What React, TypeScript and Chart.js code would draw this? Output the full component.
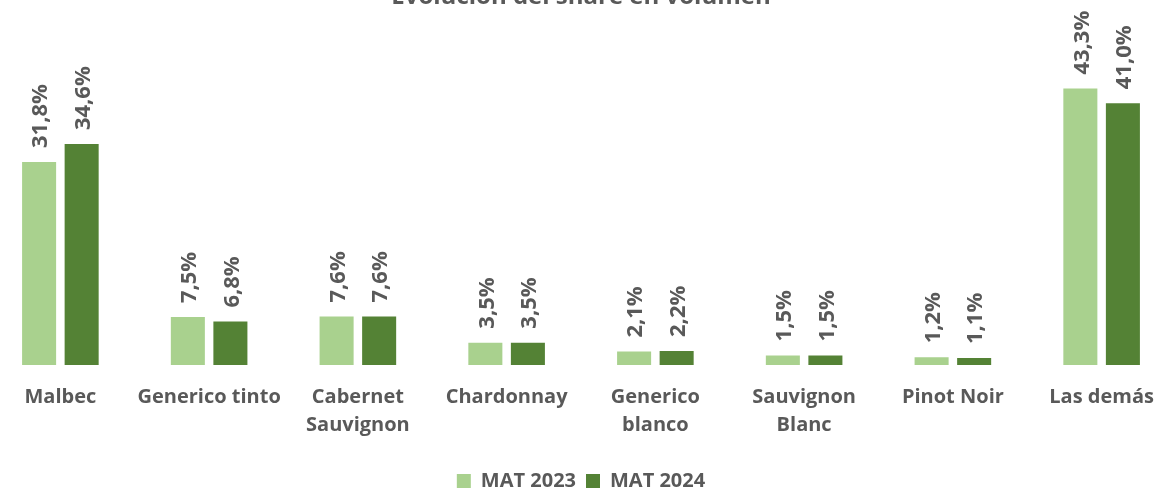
import React, { useEffect, useRef } from "react";
import { Chart, registerables } from "chart.js";

Chart.register(...registerables);

const categories: (string | string[])[] = [
  "Malbec",
  "Generico tinto",
  ["Cabernet", "Sauvignon"],
  "Chardonnay",
  ["Generico", "blanco"],
  ["Sauvignon", "Blanc"],
  "Pinot Noir",
  "Las demás",
];
const mat2023 = [31.8, 7.5, 7.6, 3.5, 2.1, 1.5, 1.2, 43.3];
const mat2024 = [34.6, 6.8, 7.6, 3.5, 2.2, 1.5, 1.1, 41.0];
const seriesNames = ["MAT 2023", "MAT 2024"];
const title = "Evolución del share en volumen";

const TEXT = "#595959";
const FONT = "'Open Sans', sans-serif";

const valueLabels = {
  id: "valueLabels",
  afterDatasetsDraw(chart: any) {
    const ctx = chart.ctx;
    ctx.save();
    ctx.fillStyle = TEXT;
    ctx.font = `bold 22px ${FONT}`;
    ctx.textAlign = "left";
    ctx.textBaseline = "middle";
    chart.data.datasets.forEach((ds: any, di: number) => {
      const meta = chart.getDatasetMeta(di);
      meta.data.forEach((bar: any, i: number) => {
        const v = ds.data[i];
        const txt = v.toFixed(1).replace(".", ",") + "%";
        ctx.save();
        ctx.translate(bar.x + 2, bar.y - 14);
        ctx.rotate(-Math.PI / 2);
        ctx.fillText(txt, 0, 0);
        ctx.restore();
      });
    });
    ctx.restore();
  },
};

export default function App() {
  const ref = useRef<HTMLCanvasElement>(null);
  useEffect(() => {
    if (!ref.current) return;
    const chart = new Chart(ref.current, {
      type: "bar",
      data: {
        labels: categories,
        datasets: [
          {
            label: seriesNames[0],
            data: mat2023,
            backgroundColor: "#A9D18E",
            categoryPercentage: 0.572,
            barPercentage: 0.8,
          },
          {
            label: seriesNames[1],
            data: mat2024,
            backgroundColor: "#548235",
            categoryPercentage: 0.572,
            barPercentage: 0.8,
          },
        ],
      },
      options: {
        responsive: false,
        animation: false,
        layout: { padding: 0 },
        plugins: {
          title: {
            display: true,
            text: title,
            color: TEXT,
            font: { family: FONT, size: 24, weight: "bold", lineHeight: 1.2 },
            padding: { top: 3, bottom: 34 },
          },
          legend: {
            position: "bottom",
            labels: {
              color: TEXT,
              font: { family: FONT, size: 20, weight: "bold" },
              boxWidth: 14,
              boxHeight: 14,
              padding: 10,
            },
          },
          tooltip: { enabled: false },
        },
        scales: {
          x: {
            grid: { display: false, drawTicks: false },
            border: { display: false },
            ticks: {
              color: TEXT,
              font: { family: FONT, size: 20, weight: "bold", lineHeight: 1.4 },
              padding: 18,
              maxRotation: 0,
              autoSkip: false,
            },
            afterFit: (s: any) => {
              s.height = 96;
            },
          },
          y: {
            display: false,
            min: 0,
            max: 50,
          },
        },
      },
      plugins: [valueLabels],
    });
    return () => chart.destroy();
  }, []);
  return (
    <div
      style={{
        position: "fixed",
        left: 0,
        top: 0,
        width: 1160,
        height: 491,
        overflow: "hidden",
        background: "#fff",
      }}
    >
      <canvas
        ref={ref}
        width={1190}
        height={521}
        style={{ position: "absolute", left: -14, top: -20, width: 1190, height: 521 }}
      />
    </div>
  );
}
